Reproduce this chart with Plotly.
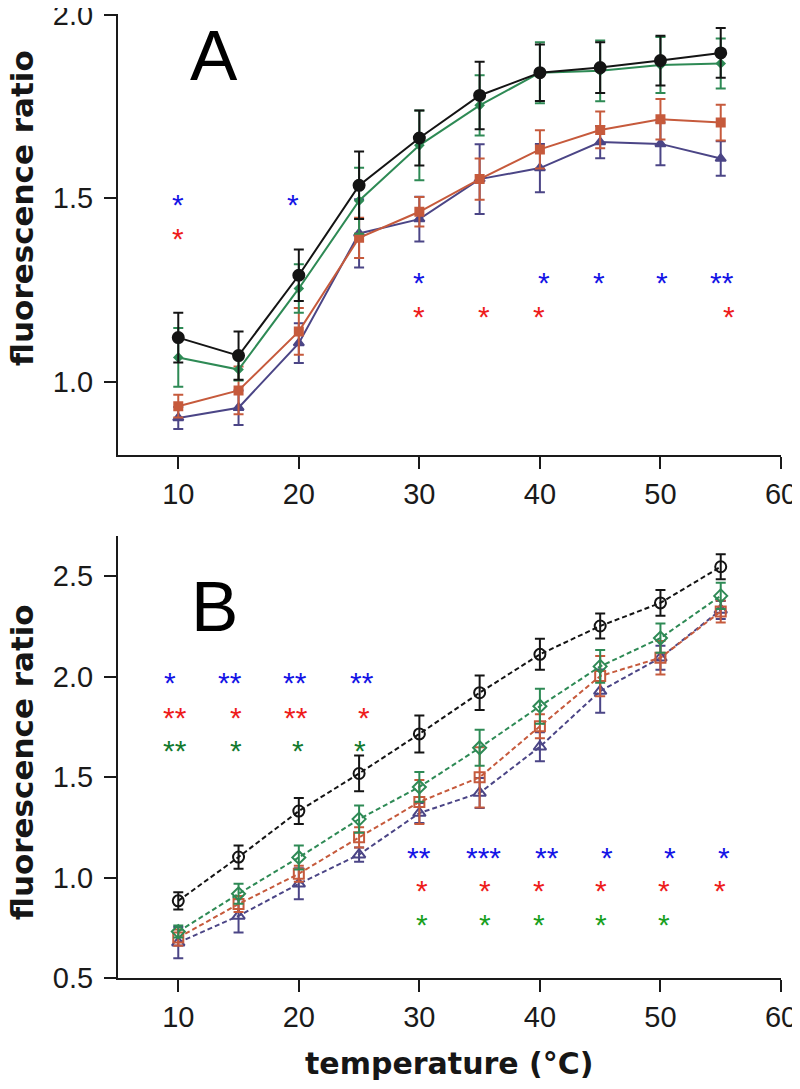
import plotly.graph_objects as go

temps = [10, 15, 20, 25, 30, 35, 40, 45, 50, 55]

# Panel A (solid lines, filled markers)
a_black = [1.120, 1.071, 1.290, 1.535, 1.664, 1.780, 1.842, 1.856, 1.875, 1.896]
a_black_err = [0.068, 0.066, 0.070, 0.092, 0.075, 0.092, 0.077, 0.069, 0.068, 0.068]
a_green = [1.066, 1.033, 1.254, 1.493, 1.644, 1.753, 1.842, 1.847, 1.863, 1.867]
a_green_err = [0.080, 0.030, 0.066, 0.090, 0.095, 0.082, 0.083, 0.083, 0.076, 0.068]
a_orange = [0.933, 0.976, 1.137, 1.392, 1.463, 1.552, 1.633, 1.686, 1.715, 1.706]
a_orange_err = [0.031, 0.065, 0.064, 0.055, 0.040, 0.056, 0.052, 0.050, 0.055, 0.049]
a_purple = [0.901, 0.929, 1.105, 1.404, 1.443, 1.552, 1.582, 1.653, 1.648, 1.608]
a_purple_err = [0.030, 0.047, 0.054, 0.093, 0.061, 0.095, 0.066, 0.044, 0.058, 0.047]

# Panel B (dashed lines, open markers)
b_black = [0.884, 1.102, 1.331, 1.518, 1.715, 1.920, 2.111, 2.252, 2.367, 2.547]
b_black_err = [0.043, 0.058, 0.065, 0.089, 0.092, 0.086, 0.077, 0.062, 0.064, 0.062]
b_green = [0.731, 0.919, 1.100, 1.291, 1.451, 1.646, 1.853, 2.051, 2.192, 2.402]
b_green_err = [0.030, 0.050, 0.060, 0.068, 0.074, 0.090, 0.087, 0.081, 0.073, 0.065]
b_orange = [0.701, 0.868, 1.019, 1.200, 1.376, 1.499, 1.753, 2.003, 2.094, 2.324]
b_orange_err = [0.040, 0.040, 0.040, 0.050, 0.110, 0.150, 0.060, 0.100, 0.083, 0.055]
b_purple = [0.676, 0.809, 0.969, 1.114, 1.321, 1.421, 1.651, 1.928, 2.094, 2.332]
b_purple_err = [0.078, 0.083, 0.077, 0.035, 0.050, 0.075, 0.072, 0.108, 0.060, 0.045]

# significance asterisks: (x positions, labels, row level)
a_blue_top_x, a_blue_top_t, a_blue_top_y = [10, 19.5], ["*", "*"], 1.497
a_red_top_x, a_red_top_t, a_red_top_y = [10], ["*"], 1.405
a_blue_mid_x, a_blue_mid_t, a_blue_mid_y = [30, 40.3, 44.9, 50.1, 55.1], ["*", "*", "*", "*", "**"], 1.285
a_red_mid_x, a_red_mid_t, a_red_mid_y = [30, 35.4, 39.9, 55.7], ["*", "*", "*", "*"], 1.19

b_blue_top_x, b_blue_top_t, b_blue_top_y = [9.3, 14.3, 19.7, 25.2], ["*", "**", "**", "**"], 1.995
b_red_top_x, b_red_top_t, b_red_top_y = [9.75, 14.75, 19.75, 25.4], ["**", "*", "**", "*"], 1.823
b_green_top_x, b_green_top_t, b_green_top_y = [9.75, 14.75, 19.9, 25.1], ["**", "*", "*", "*"], 1.659
b_blue_low_x, b_blue_low_t, b_blue_low_y = [30.0, 35.3, 40.6, 45.55, 50.75, 55.25], ["**", "***", "**", "*", "*", "*"], 1.125
b_red_low_x, b_red_low_t, b_red_low_y = [30.25, 35.45, 39.95, 45.1, 50.3, 54.9], ["*", "*", "*", "*", "*", "*"], 0.959
b_green_low_x, b_green_low_t, b_green_low_y = [30.25, 35.45, 39.95, 45.1, 50.3], ["*", "*", "*", "*", "*"], 0.789

x_ticks = [10, 20, 30, 40, 50, 60]
a_y_ticks = [1.0, 1.5, 2.0]
b_y_ticks = [0.5, 1.0, 1.5, 2.0, 2.5]

C_BLACK = "#141414"
C_GREEN = "#2e8a55"
C_ORANGE = "#c65a3c"
C_PURPLE = "#4b4586"
S_BLUE = "#1414e6"
S_RED = "#ee1c1c"
S_GREEN_DARK = "#137a2e"
S_GREEN = "#18a01e"

fig = go.Figure()


def add_series(y, err, color, symbol, size, axis, dash, lw=2):
    xa, ya = axis
    fig.add_trace(go.Scatter(
        x=temps, y=y, mode="lines+markers",
        xaxis=xa, yaxis=ya,
        line=dict(color=color, width=lw, dash=dash),
        marker=dict(symbol=symbol, size=size, color=color,
                    line=dict(color=color, width=2)),
        error_y=dict(type="data", array=err, visible=True, color=color,
                     thickness=2, width=5),
        showlegend=False, hoverinfo="skip",
    ))


A = ("x", "y")
B = ("x2", "y2")
add_series(a_purple, a_purple_err, C_PURPLE, "triangle-up", 9, A, "solid")
add_series(a_orange, a_orange_err, C_ORANGE, "square", 8, A, "solid")
add_series(a_green, a_green_err, C_GREEN, "diamond", 6, A, "solid")
add_series(a_black, a_black_err, C_BLACK, "circle", 11, A, "solid")

dash = "5px,3px"
add_series(b_purple, b_purple_err, C_PURPLE, "triangle-up-open", 11, B, dash)
add_series(b_orange, b_orange_err, C_ORANGE, "square-open", 10, B, dash)
add_series(b_green, b_green_err, C_GREEN, "diamond-open", 10, B, dash)
add_series(b_black, b_black_err, C_BLACK, "circle-open", 11, B, dash)

annotations = []
STAR_SIZE = 30
STAR_SHIFT = -5


def add_stars(xs, texts, level, color, axis):
    xa, ya = axis
    for x, t in zip(xs, texts):
        annotations.append(dict(
            x=x, y=level, xref=xa, yref=ya, text=t, showarrow=False,
            xanchor="center", yanchor="middle", yshift=STAR_SHIFT,
            font=dict(family="Liberation Sans, Arial", size=STAR_SIZE, color=color),
        ))


add_stars(a_blue_top_x, a_blue_top_t, a_blue_top_y, S_BLUE, A)
add_stars(a_red_top_x, a_red_top_t, a_red_top_y, S_RED, A)
add_stars(a_blue_mid_x, a_blue_mid_t, a_blue_mid_y, S_BLUE, A)
add_stars(a_red_mid_x, a_red_mid_t, a_red_mid_y, S_RED, A)
add_stars(b_blue_top_x, b_blue_top_t, b_blue_top_y, S_BLUE, B)
add_stars(b_red_top_x, b_red_top_t, b_red_top_y, S_RED, B)
add_stars(b_green_top_x, b_green_top_t, b_green_top_y, S_GREEN_DARK, B)
add_stars(b_blue_low_x, b_blue_low_t, b_blue_low_y, S_BLUE, B)
add_stars(b_red_low_x, b_red_low_t, b_red_low_y, S_RED, B)
add_stars(b_green_low_x, b_green_low_t, b_green_low_y, S_GREEN, B)

# panel letters
for letter, px, py, ys in [("A", 0.1448, 0.9538, 3), ("B", 0.1463, 0.3849, 0)]:
    annotations.append(dict(
        x=px, y=py, xref="paper", yref="paper", text=letter, showarrow=False,
        xanchor="center", yanchor="middle", yshift=ys,
        font=dict(family="Liberation Sans, Arial", size=71, color="#000000"),
    ))

TITLE_FONT = dict(family="DejaVu Sans", size=31, color="#161616", weight="bold")
# y-axis titles
for py in [0.7988, 0.224]:
    annotations.append(dict(
        x=0, y=py, xref="paper", yref="paper", text="fluorescence ratio",
        showarrow=False, textangle=-90, xanchor="center", yanchor="middle",
        xshift=-96, font=TITLE_FONT,
    ))
# x-axis title
annotations.append(dict(
    x=0.5, y=-0.0882, xref="paper", yref="paper", text="temperature (°C)",
    showarrow=False, xanchor="center", yanchor="middle",
    font=dict(family="DejaVu Sans", size=30, color="#161616", weight="bold"),
))

TICK_FONT = dict(family="Liberation Sans, Arial", size=29, color="#1a1a1a")
axis_common = dict(
    showline=True, linecolor="#1a1a1a", linewidth=2, mirror=False,
    ticks="outside", ticklen=12, tickwidth=2, tickcolor="#1a1a1a",
    showgrid=False, zeroline=False, tickfont=TICK_FONT, automargin=False,
    ticklabeloverflow="allow",
)

# page body has an 8px margin, so the figure is 8px smaller and offsets shrink by 8px
fig.update_layout(
    width=792, height=1081,
    margin=dict(l=110, r=19, t=6, b=111),
    paper_bgcolor="white", plot_bgcolor="white",
    showlegend=False, hovermode=False,
    xaxis=dict(domain=[0, 1], range=[5, 60], anchor="y",
               tickvals=x_ticks, **axis_common),
    yaxis=dict(domain=[0.5425, 1], range=[0.8, 2.002], anchor="x",
               tickvals=a_y_ticks, tickformat=".1f", ticklabelstandoff=5,
               **axis_common),
    xaxis2=dict(domain=[0, 1], range=[5, 60], anchor="y2",
                tickvals=x_ticks, **axis_common),
    yaxis2=dict(domain=[0, 0.4585], range=[0.5, 2.7], anchor="x2",
                tickvals=b_y_ticks, tickformat=".1f", ticklabelstandoff=5,
                **axis_common),
    annotations=annotations,
)

fig.write_html("out.html")
